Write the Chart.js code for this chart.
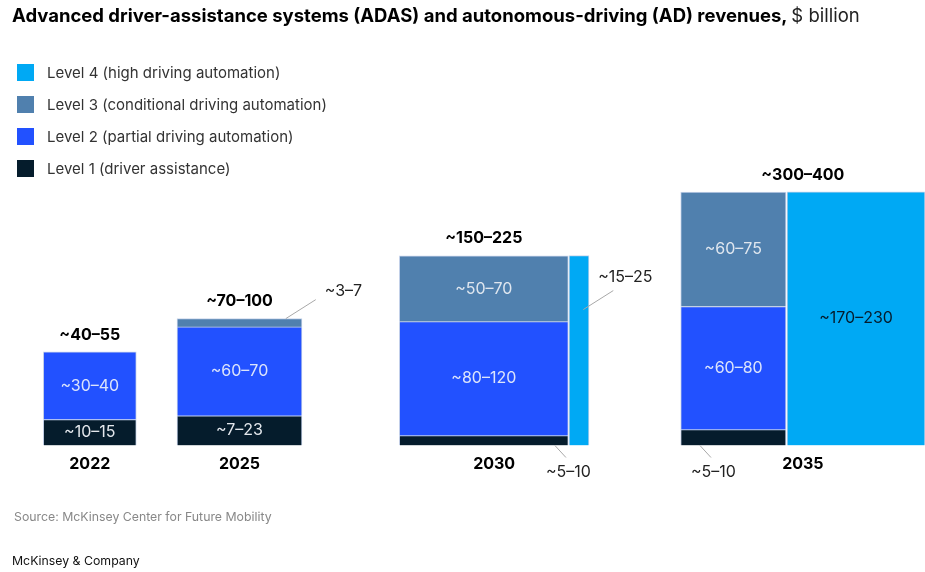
<!DOCTYPE html>
<html>
<head>
<meta charset="utf-8">
<script src="https://cdn.jsdelivr.net/npm/chart.js@4.4.0/dist/chart.umd.min.js"></script>
<style>
  body { margin: 0; background: #fff; font-family: Inter, "Liberation Sans", sans-serif; }
  #wrap { position: relative; width: 925px; height: 572px; overflow: hidden; }
  #chart { position: absolute; left: 0; top: 0; }
  .title { position: absolute; left: 12px; top: 4px; font-size: 18.5px; font-weight: 700; color: #000; white-space: nowrap; }
  .title span { font-weight: 400; color: #222; }
  .legend { position: absolute; left: 17px; top: 57px; }
  .legend .item { height: 31.8px; display: flex; align-items: center; font-size: 15px; color: #333; }
  .legend .box { width: 17px; height: 17px; margin-right: 13px; }
  .source { position: absolute; left: 14px; top: 509px; font-size: 12.3px; color: #888; }
  .brand { position: absolute; left: 12px; top: 553px; font-size: 12.3px; color: #111; }
</style>
</head>
<body>
<div id="wrap">
  <canvas id="chart" width="925" height="572"></canvas>
  <div class="title">Advanced driver-assistance systems (ADAS) and autonomous-driving (AD) revenues, <span>$ billion</span></div>
  <div class="legend" id="legend"></div>
  <div class="source">Source: McKinsey Center for Future Mobility</div>
  <div class="brand">McKinsey &amp; Company</div>
</div>
<script>
const years = ['2022', '2025', '2030', '2035'];
const levels = [
    'Level 1 (driver assistance)',
    'Level 2 (partial driving automation)',
    'Level 3 (conditional driving automation)',
    'Level 4 (high driving automation)'
];

// Estimated revenue per segment, $ billion (bar area is proportional to value)
const level1 = [13, 20, 9, 9];
const level2 = [34, 60, 104, 70];
const level3 = [null, 5.6, 60, 65];
const level4 = [null, null, 20.5, 189];

const level1Labels = ['~10–15', '~7–23', '~5–10', '~5–10'];
const level2Labels = ['~30–40', '~60–70', '~80–120', '~60–80'];
const level3Labels = [null, '~3–7', '~50–70', '~60–75'];
const level4Labels = [null, null, '~15–25', '~170–230'];
const totalLabels = ['~40–55', '~70–100', '~150–225', '~300–400'];

// Column geometry in x-axis units: [start, width]; level 4 may sit in its own column
const columns = [
    { stack: [0.433, 0.93] },
    { stack: [1.77, 1.25] },
    { stack: [3.993, 1.69], l4: [5.69, 0.20] },
    { stack: [6.807, 1.053], l4: [7.87, 1.38], totalOnGroup: true }
];

// Callouts for segments too small for an inside label
const callouts = {
    '1-2': { ax: 0.87, ay: 0, dx: 30, dy: -19, tx: 9, ty: -8, align: 'left' },
    '2-3': { ax: 0.715, ay: 0.284, dx: 30, dy: -19, tx: 12, ty: -13, align: 'center' },
    '2-0': { ax: 0.921, ay: 1, dx: 11, dy: 12, tx: 2.5, ty: 15, align: 'center' },
    '3-0': { ax: 0.183, ay: 1, dx: 11, dy: 12, tx: 2.5, ty: 15, align: 'center' }
};

const levelValues = [level1, level2, level3, level4];
const levelLabels = [level1Labels, level2Labels, level3Labels, level4Labels];
const levelColors = ['#051c2c', '#2251ff', '#5080ae', '#00a9f4'];
const insideTextColors = ['#e3e7ec', '#dce4fb', '#dfe6ef', '#051c2c'];

const X_MAX = 9.25;
const Y_MAX = 240.5;
const canvas = document.getElementById('chart');
const pxPerUnit = canvas.width / X_MAX;

// Legend (top to bottom: level 4 first)
const legendEl = document.getElementById('legend');
for (let lv = 3; lv >= 0; lv--) {
    const item = document.createElement('div');
    item.className = 'item';
    item.innerHTML = '<div class="box" style="background:' + levelColors[lv] + '"></div>' + levels[lv];
    legendEl.appendChild(item);
}

// One floating bar per segment
const datasets = [];
years.forEach((year, i) => {
    const col = columns[i];
    let base = 0;
    levelValues.forEach((vals, lv) => {
        const v = vals[i];
        if (v == null) return;
        const ownColumn = lv === 3 && col.l4;
        const [start, width] = ownColumn ? col.l4 : col.stack;
        const h = v / width;
        const lo = ownColumn ? 0 : base;
        if (!ownColumn) base += h;
        datasets.push({
            label: levels[lv],
            data: [{ x: start + width / 2, y: [lo, lo + h] }],
            barThickness: width * pxPerUnit,
            backgroundColor: levelColors[lv],
            borderColor: '#c7d3ea',
            borderWidth: 1,
            grouped: false,
            yearIndex: i,
            segLabel: levelLabels[lv][i],
            labelColor: insideTextColors[lv],
            callout: callouts[i + '-' + lv]
        });
    });
});

const tickCenters = columns.map(c => {
    const end = c.l4 ? c.l4[0] + c.l4[1] : c.stack[0] + c.stack[1];
    return (c.stack[0] + end) / 2;
});

const segmentLabels = {
    id: 'segmentLabels',
    afterDatasetsDraw(chart) {
        const { ctx } = chart;
        ctx.save();
        ctx.textBaseline = 'middle';
        const tops = years.map(() => Infinity);
        chart.data.datasets.forEach((ds, i) => {
            const bar = chart.getDatasetMeta(i).data[0];
            if (!bar) return;
            const { x, y, base, width } = bar.getProps(['x', 'y', 'base', 'width'], true);
            tops[ds.yearIndex] = Math.min(tops[ds.yearIndex], y);
            const left = x - width / 2;
            const c = ds.callout;
            ctx.font = '400 16px Inter';
            if (c) {
                const ax = left + width * c.ax;
                const ay = y + (base - y) * c.ay;
                ctx.strokeStyle = '#a8a8a8';
                ctx.lineWidth = 1;
                ctx.beginPath();
                ctx.moveTo(ax, ay);
                ctx.lineTo(ax + c.dx, ay + c.dy);
                ctx.stroke();
                ctx.fillStyle = '#222';
                ctx.textAlign = c.align;
                ctx.fillText(ds.segLabel, ax + c.dx + c.tx, ay + c.dy + c.ty);
            } else {
                ctx.fillStyle = ds.labelColor;
                ctx.textAlign = 'center';
                ctx.fillText(ds.segLabel, x, (y + base) / 2);
            }
        });
        // Totals above each year
        const xs = chart.scales.x;
        ctx.font = '700 16px Inter';
        ctx.fillStyle = '#000';
        ctx.textAlign = 'center';
        columns.forEach((col, i) => {
            const cx = col.totalOnGroup ? tickCenters[i] : col.stack[0] + col.stack[1] / 2;
            ctx.fillText(totalLabels[i], xs.getPixelForValue(cx), tops[i] - 17);
        });
        ctx.restore();
    }
};

new Chart(canvas, {
    type: 'bar',
    data: { datasets },
    options: {
        responsive: false,
        animation: false,
        devicePixelRatio: 1,
        layout: { padding: { top: 0, left: 0, right: 0, bottom: 88.3 } },
        plugins: {
            legend: { display: false },
            tooltip: { enabled: false }
        },
        scales: {
            x: {
                type: 'linear',
                offset: false,
                min: 0,
                max: X_MAX,
                afterBuildTicks: scale => {
                    scale.ticks = tickCenters.map(v => ({ value: v }));
                },
                ticks: {
                    autoSkip: false,
                    maxRotation: 0,
                    padding: 9.5,
                    color: '#000',
                    font: { family: 'Inter', size: 16, weight: '700' },
                    callback: (value, index) => years[index]
                },
                grid: { display: false, drawTicks: false },
                border: { display: false }
            },
            y: {
                display: false,
                min: 0,
                max: Y_MAX
            }
        }
    },
    plugins: [segmentLabels]
});
</script>
</body>
</html>
